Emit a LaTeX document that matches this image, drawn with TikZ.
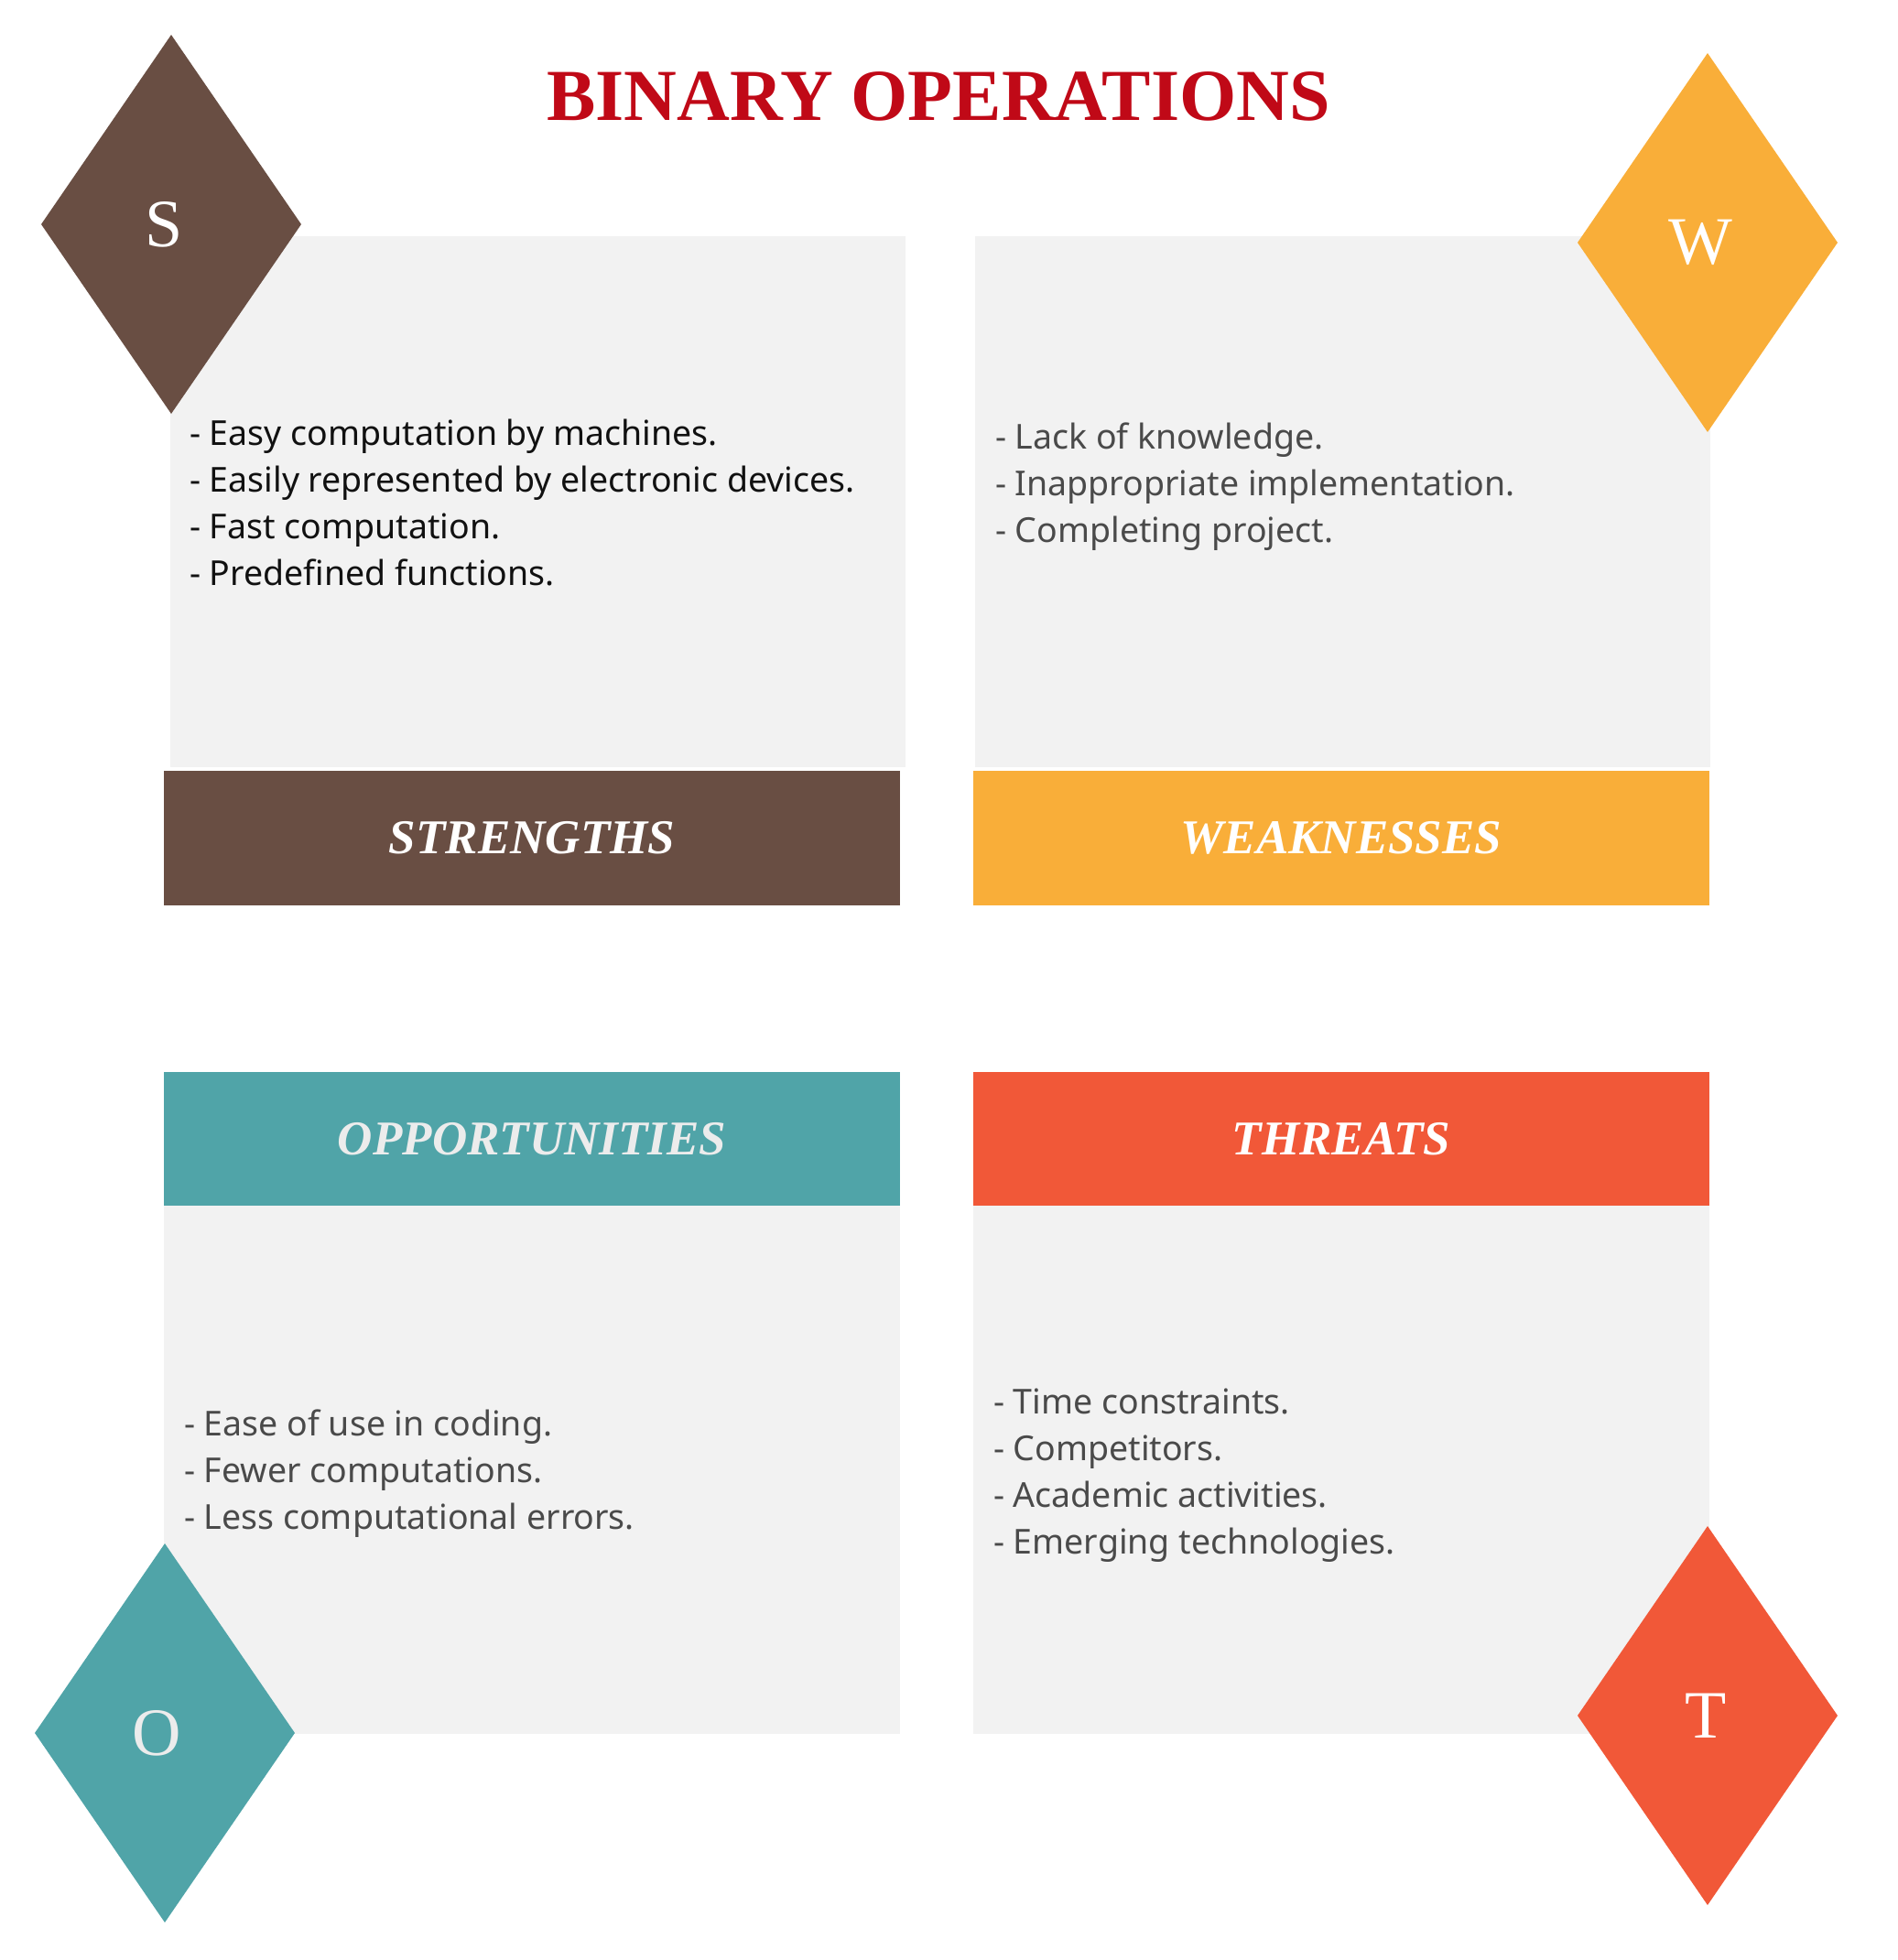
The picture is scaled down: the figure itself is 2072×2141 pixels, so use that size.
\documentclass[tikz,border=0pt]{standalone}
\usepackage{fontspec}
\setmainfont{Liberation Serif}
\newfontfamily\bodyfont{Noto Sans}
\usetikzlibrary{shapes.geometric}

\definecolor{panelgray}{RGB}{242,242,242}
\definecolor{sbrown}{RGB}{105,78,67}
\definecolor{worange}{RGB}{249,174,57}
\definecolor{oteal}{RGB}{80,164,168}
\definecolor{tred}{RGB}{241,88,56}
\definecolor{titlered}{RGB}{192,9,23}
\definecolor{bodydark}{RGB}{17,17,17}
\definecolor{bodygray}{RGB}{74,74,74}
\definecolor{softwhite}{RGB}{236,236,236}

\begin{document}
\begin{tikzpicture}[x=1pt,y=-1pt,
  panel/.style={fill=panelgray, inner sep=0pt, outer sep=0pt, anchor=north west,
    minimum width=#1},
  banner/.style={inner sep=0pt, outer sep=0pt, anchor=north west,
    minimum width=804pt, text=white,
    font=\fontsize{53}{58}\selectfont\bfseries\itshape},
  gem/.style={diamond, fill=#1, inner sep=0pt, outer sep=0pt,
    minimum width=284pt, minimum height=414pt, text=white,
    font=\fontsize{74}{80}\selectfont},
  bullets/.style={anchor=base west, inner sep=0pt, outer sep=0pt, align=left,
    font=\bodyfont\fontsize{37.5}{51}\selectfont}]

\useasboundingbox (0,0) rectangle (2072,2141);

% title
\node[text=titlered, font=\fontsize{80}{90}\selectfont\bfseries, inner sep=0pt]
  (title) at (1025,105.5) {BINARY OPERATIONS};

% light panels
\node[panel=803pt, minimum height=580pt] (sPanel) at (186,258) {};
\node[panel=803pt, minimum height=580pt] (wPanel) at (1065,258) {};
\node[panel=804pt, minimum height=577pt] (oPanel) at (179,1317) {};
\node[panel=804pt, minimum height=577pt] (tPanel) at (1063,1317) {};

% headline bars
\node[banner, fill=sbrown, minimum height=147pt] (sBar) at (179,842) {STRENGTHS};
\node[banner, fill=worange, minimum height=147pt] (wBar) at (1063,842) {WEAKNESSES};
\node[banner, fill=oteal, minimum height=146pt, text=softwhite] (oBar) at (179,1171) {OPPORTUNITIES};
\node[banner, fill=tred, minimum height=146pt] (tBar) at (1063,1171) {THREATS};

% corner letters
\node[gem=sbrown] (sGem) at (187,245) {S\hspace*{16pt}};
\node[gem=worange] (wGem) at (1865,265) {W\hspace*{16pt}};
\node[gem=oteal, text=softwhite] (oGem) at (180,1893) {O\hspace*{18pt}};
\node[gem=tred] (tGem) at (1865,1874) {T\hspace*{4pt}};

% lists
\node[bullets, text=bodydark] (sList) at (207,486.7) {%
  \begin{tabular}[t]{@{}l@{}}
  - Easy computation by machines.\\
  - Easily represented by electronic devices.\\
  - Fast computation.\\
  - Predefined functions.
  \end{tabular}};
\node[bullets, text=bodygray] (wList) at (1087,490) {%
  \begin{tabular}[t]{@{}l@{}}
  - Lack of knowledge.\\
  - Inappropriate implementation.\\
  - Completing project.
  \end{tabular}};
\node[bullets, text=bodygray] (oList) at (201,1568) {%
  \begin{tabular}[t]{@{}l@{}}
  - Ease of use in coding.\\
  - Fewer computations.\\
  - Less computational errors.
  \end{tabular}};
\node[bullets, text=bodygray] (tList) at (1085,1544) {%
  \begin{tabular}[t]{@{}l@{}}
  - Time constraints.\\
  - Competitors.\\
  - Academic activities.\\
  - Emerging technologies.
  \end{tabular}};
\end{tikzpicture}
\end{document}
